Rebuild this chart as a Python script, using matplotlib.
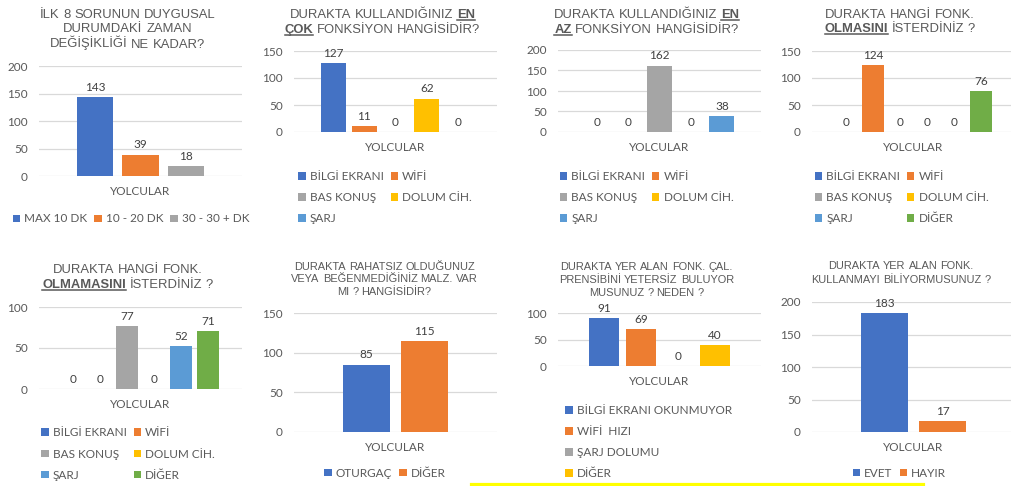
"""
Durak anketi: sekiz soru, her biri kendi küçük sütun grafiğinde.
"""

import matplotlib.pyplot as plt
from matplotlib.patches import Patch
from matplotlib.lines import Line2D

W, H = 1011, 486

# -------------------- Data --------------------
cats_time = ["MAX 10 DK", "10 - 20 DK", "30 - 30 + DK"]
vals_time = [143, 39, 18]

cats_func = ["BİLGİ EKRANI", "WİFİ", "BAS KONUŞ", "DOLUM CİH.", "ŞARJ"]
vals_most = [127, 11, 0, 62, 0]
vals_least = [0, 0, 162, 0, 38]

cats_func6 = cats_func + ["DİĞER"]
vals_want = [0, 124, 0, 0, 0, 76]
vals_dont_want = [0, 0, 77, 0, 52, 71]

cats_disturb = ["OTURGAÇ", "DİĞER"]
vals_disturb = [85, 115]

cats_lacking = ["BİLGİ EKRANI OKUNMUYOR", "WİFİ  HIZI", "ŞARJ DOLUMU", "DİĞER"]
vals_lacking = [91, 69, 0, 40]

cats_know = ["EVET", "HAYIR"]
vals_know = [183, 17]

# words wrapped in _..._ are bold + underlined
titles = [
    "İLK 8 SORUNUN DUYGUSAL\nDURUMDAKİ ZAMAN\nDEĞİŞİKLİĞİ NE KADAR?",
    "DURAKTA KULLANDIĞINIZ _EN_\n_ÇOK_ FONKSİYON HANGİSİDİR?",
    "DURAKTA KULLANDIĞINIZ _EN_\n_AZ_ FONKSİYON HANGİSİDİR?",
    "DURAKTA HANGİ FONK.\n_OLMASINI_ İSTERDİNİZ ?",
    "DURAKTA HANGİ FONK.\n_OLMAMASINI_ İSTERDİNİZ ?",
    "DURAKTA RAHATSIZ OLDUĞUNUZ\nVEYA BEĞENMEDİĞİNİZ MALZ. VAR\nMI ? HANGİSİDİR?",
    "DURAKTA YER ALAN FONK. ÇAL.\nPRENSİBİNİ YETERSİZ BULUYOR\nMUSUNUZ ? NEDEN ?",
    "DURAKTA YER ALAN FONK.\nKULLANMAYI BİLİYORMUSUNUZ ?",
]
xlabel = "YOLCULAR"

# -------------------- Style --------------------
PALETTE = ["#4472C4", "#ED7D31", "#A5A5A5", "#FFC000", "#5B9BD5", "#70AD47"]
TXT = "#595959"
LBL = "#404040"
GRID = "#D9D9D9"
TITLE_FONT = "Liberation Sans"
BODY_FONT = "Lato"
SMALL = 8.5

# layout in pixels: axes left, top (y max), bottom (0), y max, y step,
# title centre x, first baseline, line step, title size, legend centre, ncol
panels = [
    (titles[0], cats_time, vals_time, 39, 66, 176, 200, 50, 127.5, 17.5, 15, 9.4, (131, 219), 3),
    (titles[1], cats_func, vals_most, 294, 51, 132, 150, 50, 382.5, 18, 15, 9.4, (385, 197.5), 2),
    (titles[2], cats_func, vals_least, 558, 50, 132, 200, 50, 646.5, 18, 15, 9.4, (646.5, 197.5), 2),
    (titles[3], cats_func6, vals_want, 812, 51, 132, 150, 50, 900, 17.5, 15, 9.4, (901.5, 197.5), 2),
    (titles[4], cats_func6, vals_dont_want, 39, 307, 389, 100, 50, 127.5, 273, 15, 9.4, (128, 454), 2),
    (titles[5], cats_disturb, vals_disturb, 294, 313, 432, 150, 50, 384.5, 269.5, 12.7, 7.9, (385, 473), 2),
    (titles[6], cats_lacking, vals_lacking, 558, 313, 366, 100, 50, 646.5, 270, 13, 7.9, (648.5, 442), 1),
    (titles[7], cats_know, vals_know, 812, 302, 432, 200, 50, 901, 269.3, 13.4, 7.9, (899.5, 473), 2),
]
AX_W = 203

fig = plt.figure(figsize=(W / 100, H / 100), dpi=100)
renderer = fig.canvas.get_renderer()


def text_width(s, **kw):
    t = fig.text(0, 0, s, **kw)
    w = t.get_window_extent(renderer).width
    t.remove()
    return w


def draw_title(text, xc, y0, step, size):
    kw = dict(fontsize=size, family=TITLE_FONT, color=TXT)
    gap = text_width("I I", **kw) - text_width("II", **kw)
    for i, line in enumerate(text.split("\n")):
        yb = 1 - (y0 + i * step) / H
        parts = []
        for word in line.split(" "):
            strong = len(word) > 2 and word[0] == "_" and word[-1] == "_"
            word = word.strip("_") if strong else word
            t = fig.text(0, yb, word, va="baseline", ha="left",
                         weight="bold" if strong else "normal", **kw)
            parts.append((t, strong, t.get_window_extent(renderer).width))
        total = sum(p[2] for p in parts) + gap * (len(parts) - 1)
        x = xc - total / 2
        for t, strong, w in parts:
            t.set_x(x / W)
            if strong:
                fig.add_artist(Line2D([x / W, (x + w) / W], [yb - 2 / H] * 2,
                                      color=TXT, lw=1.1))
            x += w + gap


for (title, cats, vals, x0, top, bot, ymax, ystep, txc, ty, tstep, tsize,
     (lx, ly), ncol) in panels:
    n = len(cats)
    ax = fig.add_axes([x0 / W, 1 - bot / H, AX_W / W, (bot - top) / H])
    colors = PALETTE[:n]
    bars = ax.bar(range(n), vals, width=0.8, color=colors)
    ax.bar_label(bars, padding=3, fontsize=SMALL, family=BODY_FONT, color=LBL)

    ax.set_xlim(-1.25, n + 0.25)
    ax.set_ylim(0, ymax)
    ax.set_yticks(range(0, ymax + 1, ystep))
    ax.set_xticks([(n - 1) / 2])
    ax.set_xticklabels([xlabel])
    ax.tick_params(axis="y", length=0, pad=8, labelsize=SMALL, labelcolor=TXT)
    ax.tick_params(axis="x", length=0, pad=7.5, labelsize=SMALL, labelcolor=TXT)
    for lab in ax.get_xticklabels() + ax.get_yticklabels():
        lab.set_family(BODY_FONT)
    ax.yaxis.grid(True, color=GRID, lw=0.9)
    ax.set_axisbelow(True)
    for sp in ax.spines.values():
        sp.set_visible(False)

    # legend filled row by row, like the spreadsheet
    order = list(range(n)) if ncol != 2 else list(range(0, n, 2)) + list(range(1, n, 2))
    handles = [Patch(facecolor=colors[i]) for i in order]
    labels = [cats[i] for i in order]
    ax.legend(handles, labels, loc="center", bbox_to_anchor=(lx / W, 1 - ly / H),
              bbox_transform=fig.transFigure, ncol=ncol, frameon=False,
              prop={"family": BODY_FONT, "size": SMALL}, labelcolor=TXT,
              handlelength=0.62, handleheight=0.62, handletextpad=0.35,
              columnspacing=0.6, labelspacing=0.85, borderpad=0, borderaxespad=0)

    draw_title(title, txc, ty, tstep, tsize)

# yellow highlight stroke along the bottom
fig.add_artist(Line2D([471 / W, 923 / W], [1 - 483.5 / H] * 2, color="#FFFF00", lw=2.3))

fig.savefig("out.png", dpi=100)
